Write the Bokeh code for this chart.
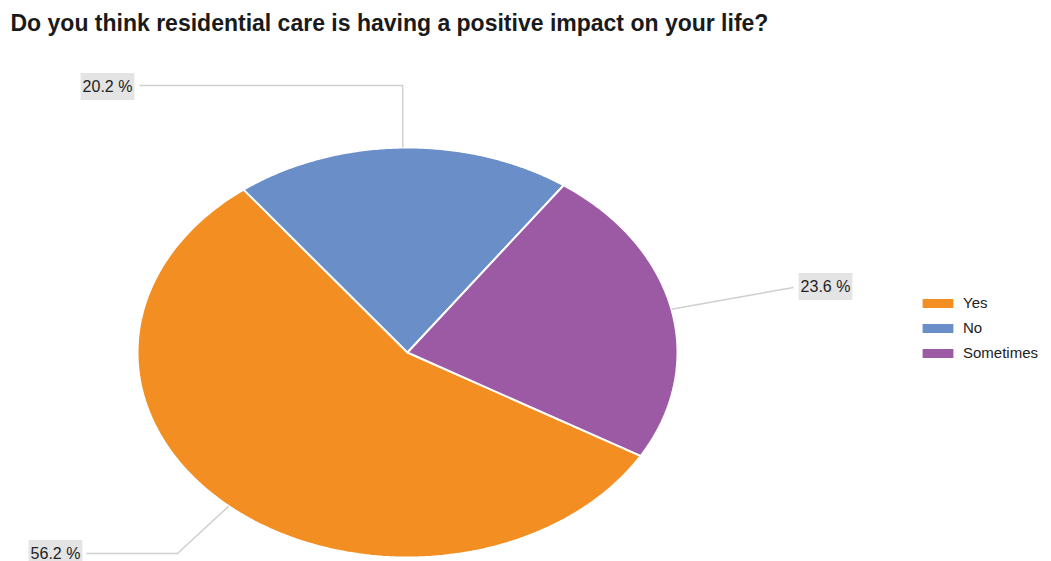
import numpy as np
from bokeh.plotting import figure
from bokeh.models import ColumnDataSource, Label, Range1d
from bokeh.embed import file_html
from bokeh.resources import INLINE

# ---- data ----
categories = ["Yes", "No", "Sometimes"]
values = [56.2, 20.2, 23.6]
colors = ["#F38E22", "#698EC8", "#9D5AA4"]
title_text = "Do you think residential care is having a positive impact on your life?"

# ---- layout ----
W, H = 1051, 561
CX, CY = 407, 352          # pie centre (px, y downward)
RX, RY = 270, 205          # pie radii (ellipse)
START = 120.3              # start angle, degrees clockwise from 12 o'clock
FONT = "Liberation Sans"

p = figure(width=W, height=H, output_backend="svg", toolbar_location=None,
           x_range=Range1d(0, W), y_range=Range1d(H, 0),
           x_axis_location=None, y_axis_location=None, min_border=0,
           background_fill_color="white", border_fill_color="white")
p.grid.visible = False
p.outline_line_color = None

total = float(sum(values))
xs, ys, mids = [], [], []
a = START
for v in values:
    span = v / total * 360.0
    th = np.radians(np.linspace(a, a + span, 160))
    xs.append([CX] + list(CX + RX * np.sin(th)))
    ys.append([CY] + list(CY - RY * np.cos(th)))
    mids.append(np.radians(a + span / 2.0))
    a += span

src = ColumnDataSource(dict(xs=xs, ys=ys, color=colors, label=categories))
p.patches("xs", "ys", source=src, fill_color="color", line_color="white",
          line_width=2, legend_field="label")

# ---- leader lines + labels ----
def edge(m):
    return CX + RX * np.sin(m), CY - RY * np.cos(m)

LINE = "#cfcfcf"
lbl = {c: f"{v:.1f} %" for c, v in zip(categories, values)}

# No (top)
ex, ey = edge(mids[1])
p.line([139, ex, ex], [85, 85, ey], line_color=LINE, line_width=1.5)
# Sometimes (right)
ex, ey = edge(mids[2])
p.line([ex, 793], [ey, 287], line_color=LINE, line_width=1.5)
# Yes (bottom-left)
ex, ey = edge(mids[0])
p.line([86, 177, ex], [553, 553, ey], line_color=LINE, line_width=1.5)

for cat, (lx, ly) in zip(["No", "Sometimes", "Yes"], [(107, 86), (825, 286), (55, 553)]):
    p.add_layout(Label(x=lx, y=ly, text=lbl[cat], text_font=FONT,
                       text_font_size="16px", text_color="#222222",
                       text_align="center", text_baseline="middle",
                       background_fill_color="#e4e4e4", padding=(2, 5)))

# ---- title ----
p.add_layout(Label(x=10, y=22, text=title_text, text_font=FONT,
                   text_font_size="23px", text_font_style="bold",
                   text_color="#1a1a1a", text_baseline="middle"))

# ---- legend ----
lg = p.legend[0]
lg.location = (917, 200)
lg.orientation = "vertical"
lg.glyph_width = 41
lg.glyph_height = 14
lg.label_height = 15
lg.label_standoff = 5
lg.spacing = 8
lg.padding = 0
lg.margin = 0
lg.border_line_color = None
lg.background_fill_alpha = 0
lg.label_text_font = FONT
lg.label_text_font_size = "15px"
lg.label_text_color = "#222222"

open("out.html", "w").write(file_html(p, INLINE))
